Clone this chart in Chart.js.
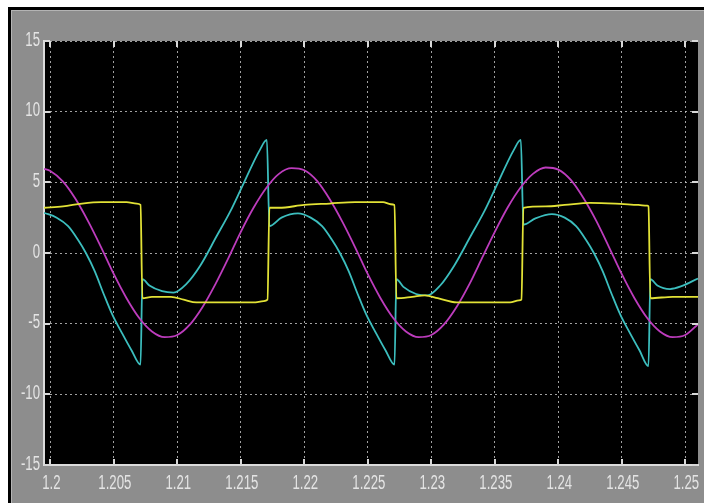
<!DOCTYPE html>
<html>
<head>
<meta charset="utf-8">
<script src="https://cdn.jsdelivr.net/npm/chart.js@4.4.1/dist/chart.umd.min.js"></script>
<style>
  html, body { margin: 0; padding: 0; background: #fff; }
  #wrap { width: 704px; height: 503px; }
</style>
</head>
<body>
<div id="wrap"><canvas id="scopeGraph" width="704" height="503"></canvas></div>
<script>
// tick positions / labels
const xTicks = [1.2, 1.205, 1.21, 1.215, 1.22, 1.225, 1.23, 1.235, 1.24, 1.245, 1.25]
const xTickLabels = ['1.2', '1.205', '1.21', '1.215', '1.22', '1.225', '1.23', '1.235', '1.24', '1.245', '1.25']
const yTicks = [-15, -10, -5, 0, 5, 10, 15]
const yTickLabels = ['-15', '-10', '-5', '0', '5', '10', '15']

// magenta trace (sine-like)
const magentaT = [1.1995, 1.200, 1.201, 1.202, 1.203, 1.204, 1.205, 1.206, 1.207, 1.208, 1.209,
    1.210, 1.211, 1.212, 1.213, 1.214, 1.215, 1.216, 1.217, 1.218, 1.219,
    1.220, 1.221, 1.222, 1.223, 1.224, 1.225, 1.226, 1.227, 1.228, 1.229,
    1.230, 1.231, 1.232, 1.233, 1.234, 1.235, 1.236, 1.237, 1.238, 1.239,
    1.240, 1.241, 1.242, 1.243, 1.244, 1.245, 1.246, 1.247, 1.248, 1.249,
    1.250, 1.251]
const magentaV = [5.95, 5.8, 5.05, 3.8, 2.2, 0.4, -1.5, -3.2, -4.6, -5.55, -5.95,
    -5.8, -5.05, -3.8, -2.2, -0.4, 1.5, 3.2, 4.6, 5.6, 6.0,
    5.85, 5.1, 3.8, 2.2, 0.4, -1.5, -3.2, -4.6, -5.55, -5.95,
    -5.8, -5.05, -3.8, -2.2, -0.35, 1.5, 3.2, 4.6, 5.6, 6.05,
    5.9, 5.15, 3.85, 2.25, 0.4, -1.5, -3.2, -4.6, -5.55, -5.95,
    -5.8, -5.05]

// yellow trace (square-ish)
const yellowT = [1.1995, 1.2010, 1.2025, 1.2040, 1.2060, 1.2068, 1.2071, 1.20725, 1.2080, 1.2095,
    1.2105, 1.2115, 1.2140, 1.2160, 1.2168, 1.2171, 1.21725, 1.2180, 1.2200, 1.2220,
    1.2240, 1.2262, 1.2268, 1.2271, 1.22725, 1.2285, 1.2295, 1.2305, 1.2320, 1.2340,
    1.2362, 1.2369, 1.2371, 1.23725, 1.2390, 1.2405, 1.2425, 1.2445, 1.2463, 1.2470,
    1.2471, 1.24725, 1.2490, 1.2510]
const yellowV = [3.2, 3.3, 3.5, 3.6, 3.6, 3.5, 3.4, -3.2, -3.1, -3.1,
    -3.3, -3.5, -3.5, -3.5, -3.4, -3.3, 3.2, 3.2, 3.4, 3.5,
    3.6, 3.6, 3.45, 3.4, -3.2, -3.1, -3.0, -3.2, -3.5, -3.5,
    -3.5, -3.35, -3.3, 3.2, 3.3, 3.4, 3.55, 3.5, 3.4, 3.35,
    3.3, -3.2, -3.1, -3.1]

// cyan trace
const cyanT = [1.1995, 1.2005, 1.2014, 1.2022, 1.2028, 1.2035, 1.2042, 1.2049, 1.2056, 1.2064, 1.2071,
    1.20725, 1.2078, 1.2088, 1.2097, 1.2107, 1.2118, 1.2131, 1.2142, 1.2150, 1.2165, 1.21705,
    1.21725, 1.2182, 1.2195, 1.2205, 1.2214, 1.2222, 1.2228, 1.2235, 1.2242, 1.2249, 1.2256, 1.2264, 1.2271,
    1.22725, 1.2278, 1.2288, 1.2297, 1.2307, 1.2318, 1.2331, 1.2342, 1.2350, 1.2365, 1.23705,
    1.23725, 1.2382, 1.2395, 1.2405, 1.2414, 1.2422, 1.2428, 1.2435, 1.2442, 1.2449, 1.2456, 1.2464, 1.2471,
    1.24725, 1.2478, 1.2488, 1.2497, 1.2510]
const cyanV = [2.85, 2.5, 1.9, 0.9, 0.0, -1.3, -2.9, -4.4, -5.6, -6.9, -7.9,
    -1.85, -2.3, -2.7, -2.8, -2.2, -0.9, 1.2, 3.0, 4.5, 7.3, 8.0,
    1.9, 2.5, 2.8, 2.5, 1.9, 0.9, 0.0, -1.3, -2.9, -4.4, -5.6, -6.9, -7.9,
    -1.85, -2.4, -2.9, -3.0, -2.3, -0.9, 1.2, 3.0, 4.5, 7.3, 8.0,
    2.0, 2.45, 2.75, 2.5, 1.9, 0.9, 0.0, -1.3, -2.9, -4.4, -5.6, -6.9, -8.0,
    -1.85, -2.3, -2.55, -2.35, -1.8]

function toPoints(ts, vs) {
    return ts.map(function (t, i) { return { x: t, y: vs[i] } })
}

// narrow scope-style tick text, drawn squeezed horizontally
function drawNarrow(c, text, x, y, align, baseline) {
    c.save()
    c.translate(x, y)
    c.scale(0.66, 1)
    c.textAlign = align
    c.textBaseline = baseline
    c.fillText(text, 0, 0)
    c.restore()
}

// grey scope panel, black border, black plot area
const scopeBackground = {
    id: 'scopeBackground',
    beforeDraw(chart) {
        const c = chart.ctx
        const a = chart.chartArea
        c.save()
        c.fillStyle = '#ffffff'
        c.fillRect(0, 0, chart.width, chart.height)
        c.fillStyle = '#000000'
        c.fillRect(8, 7, chart.width - 8, chart.height - 7)
        c.fillStyle = '#8d8d8d'
        c.fillRect(11, 10, chart.width - 11, chart.height - 10)
        c.fillStyle = '#b4b4b4'
        c.fillRect(11, 10, chart.width - 11, 1)
        c.fillRect(11, 10, 1, chart.height - 10)
        c.fillStyle = '#000000'
        c.fillRect(a.left, a.top, a.right - a.left, a.bottom - a.top)
        c.restore()
    },
    afterDatasetsDraw(chart) {
        const c = chart.ctx
        const a = chart.chartArea
        const xs = chart.scales.x
        const ys = chart.scales.y
        c.save()
        // small inward tick marks on all four sides
        c.strokeStyle = '#d8d8d8'
        c.lineWidth = 2
        c.beginPath()
        xTicks.forEach(function (v) {
            const px = Math.round(xs.getPixelForValue(v))
            c.moveTo(px, a.bottom); c.lineTo(px, a.bottom - 6)
            c.moveTo(px, a.top); c.lineTo(px, a.top + 6)
        })
        yTicks.forEach(function (v) {
            const py = Math.round(ys.getPixelForValue(v))
            c.moveTo(a.left, py); c.lineTo(a.left + 6, py)
            c.moveTo(a.right, py); c.lineTo(a.right - 6, py)
        })
        c.stroke()
        // tick labels
        c.fillStyle = '#e4e4e4'
        c.font = "20px 'Liberation Sans', Arial, sans-serif"
        xTicks.forEach(function (v, i) {
            drawNarrow(c, xTickLabels[i], xs.getPixelForValue(v) + 1, a.bottom + 8, 'center', 'top')
        })
        yTicks.forEach(function (v, i) {
            drawNarrow(c, yTickLabels[i], a.left - 4, ys.getPixelForValue(v) - 1, 'right', 'middle')
        })
        c.restore()
    }
}

const ctx = document.getElementById('scopeGraph')

const data = {
    datasets: [
        {
            label: 'yellow',
            data: toPoints(yellowT, yellowV),
            borderColor: '#e2e236',
            borderWidth: 1.8,
            pointRadius: 0,
            cubicInterpolationMode: 'monotone'
        },
        {
            label: 'magenta',
            data: toPoints(magentaT, magentaV),
            borderColor: '#bd3cbd',
            borderWidth: 1.8,
            pointRadius: 0,
            cubicInterpolationMode: 'monotone'
        },
        {
            label: 'cyan',
            data: toPoints(cyanT, cyanV),
            borderColor: '#3cbebe',
            borderWidth: 1.8,
            pointRadius: 0,
            cubicInterpolationMode: 'monotone'
        }
    ]
}

const config = {
    type: 'line',
    data: data,
    plugins: [scopeBackground],
    options: {
        responsive: false,
        animation: false,
        devicePixelRatio: 1,
        layout: { padding: { top: 41, right: 6, left: 0, bottom: 0 } },
        plugins: {
            legend: { display: false },
            tooltip: { enabled: false }
        },
        scales: {
            x: {
                type: 'linear',
                min: 1.1995,
                max: 1.251,
                afterFit: function (scale) { scale.height = 38 },
                afterBuildTicks: function (scale) {
                    scale.ticks = xTicks.map(function (v) { return { value: v } })
                },
                ticks: { display: false },
                grid: { color: 'rgba(200,200,200,0.8)', lineWidth: 1, drawTicks: false },
                border: { display: true, color: '#dcdcdc', width: 2, dash: [2, 3] }
            },
            y: {
                min: -15,
                max: 15,
                afterFit: function (scale) { scale.width = 44 },
                afterBuildTicks: function (scale) {
                    scale.ticks = yTicks.map(function (v) { return { value: v } })
                },
                ticks: { display: false },
                grid: { color: 'rgba(200,200,200,0.8)', lineWidth: 1, drawTicks: false },
                border: { display: true, color: '#dcdcdc', width: 2, dash: [2, 3] }
            }
        }
    }
}

const scopeChart = new Chart(ctx, config)
</script>
</body>
</html>
